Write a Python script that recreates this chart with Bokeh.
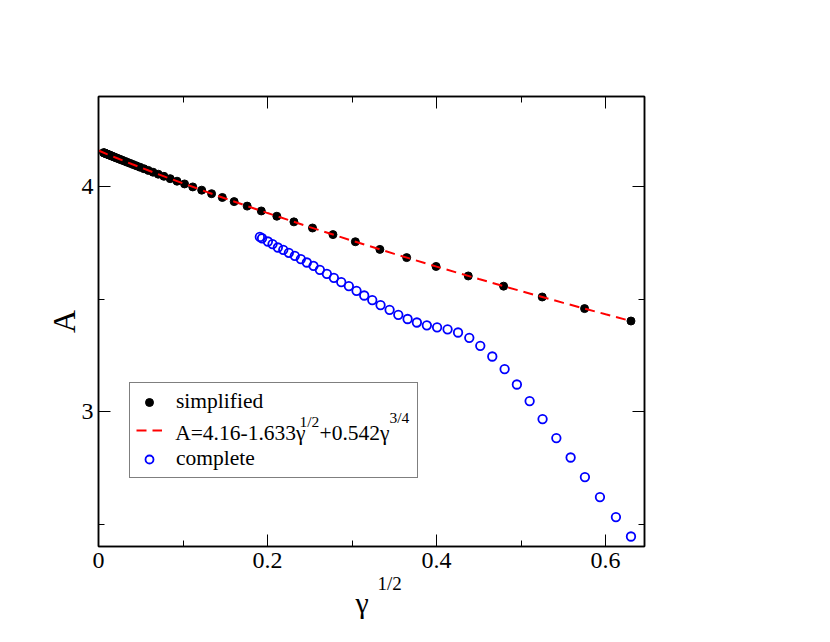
from bokeh.plotting import figure
from bokeh.models import Range1d, LinearAxis, FixedTicker, Legend, LegendItem, Title
from bokeh.core.properties import value
from bokeh.embed import file_html
from bokeh.resources import INLINE

# ---------------- data ----------------
simplified_x = [0.630, 0.5751, 0.5250, 0.4793, 0.4375, 0.3994, 0.3646, 0.3329, 0.3039, 0.2774,
                0.2532, 0.2312, 0.2110, 0.1926, 0.1759, 0.1605, 0.1465, 0.1338, 0.1221, 0.1115,
                0.1018, 0.0929, 0.0848, 0.0774, 0.0707, 0.0645, 0.0589, 0.0538, 0.0491, 0.0448,
                0.0409, 0.0373, 0.0341, 0.0311, 0.0284, 0.0259, 0.0237, 0.0216, 0.0197, 0.0180,
                0.0164, 0.0150, 0.0137, 0.0125, 0.0114, 0.0104, 0.0095, 0.0087, 0.0079, 0.0072,
                0.0066, 0.0060]
simplified_y = [3.4022, 3.4573, 3.5089, 3.5571, 3.6024, 3.6446, 3.6839, 3.7205, 3.7545, 3.7862,
                3.8156, 3.8428, 3.8679, 3.8913, 3.9128, 3.9328, 3.9512, 3.9680, 3.9837, 3.9981,
                4.0114, 4.0236, 4.0349, 4.0453, 4.0547, 4.0636, 4.0716, 4.0789, 4.0857, 4.0919,
                4.0977, 4.1030, 4.1077, 4.1122, 4.1162, 4.1200, 4.1233, 4.1264, 4.1293, 4.1319,
                4.1343, 4.1365, 4.1385, 4.1404, 4.1421, 4.1436, 4.1450, 4.1462, 4.1475, 4.1485,
                4.1495, 4.1505]

fit_x = [0.0, 0.01, 0.02, 0.04, 0.06, 0.08, 0.10, 0.15, 0.20, 0.25, 0.30, 0.35, 0.40, 0.45,
         0.50, 0.55, 0.60, 0.63]
fit_y = [4.1600, 4.1442, 4.1289, 4.0990, 4.0700, 4.0416, 4.0138, 3.9465, 3.8819, 3.8195,
         3.7592, 3.7007, 3.6439, 3.5888, 3.5351, 3.4829, 3.4321, 3.4022]

complete_x = [0.1909, 0.1935, 0.2004, 0.2059, 0.2122, 0.2186, 0.2252, 0.2323, 0.2394, 0.2465,
              0.2544, 0.2619, 0.2702, 0.2785, 0.2872, 0.2962, 0.3053, 0.3144, 0.3239, 0.3337,
              0.3444, 0.3547, 0.3657, 0.3767, 0.3885, 0.4006, 0.4130, 0.4254, 0.4387, 0.4517,
              0.4659, 0.4805, 0.4950, 0.5101, 0.5254, 0.5417, 0.5586, 0.5755, 0.5933, 0.6122,
              0.6300]
complete_y = [3.776, 3.770, 3.7556, 3.7440, 3.7289, 3.7187, 3.7053, 3.6920, 3.6773, 3.6622,
              3.6476, 3.6298, 3.6120, 3.5942, 3.5751, 3.5573, 3.5364, 3.5156, 3.4951, 3.4729,
              3.4520, 3.4298, 3.4111, 3.3956, 3.3831, 3.3742, 3.3653, 3.3511, 3.3276, 3.2920,
              3.2444, 3.1884, 3.1200, 3.0462, 2.9662, 2.8818, 2.7956, 2.7084, 2.6196, 2.5307,
              2.4444]

x_ticks = [0, 0.2, 0.4, 0.6]
x_tick_labels = ["0", "0.2", "0.4", "0.6"]
x_minor_ticks = [0.1, 0.3, 0.5]
y_ticks = [3, 4]
y_tick_labels = ["3", "4"]
y_minor_ticks = [2.5, 3.5]

legend_labels = ["simplified", "A=4.16-1.633\u03b3", "complete"]

# ---------------- layout ----------------
FONT = "Liberation Serif"
X0, X1 = 0.0, 0.646
Y0, Y1 = 2.4, 4.4
FRAME_L, FRAME_T, FRAME_W, FRAME_H = 98, 96, 546, 450   # pixels in the picture
FIG_W, FIG_H = 814, 634


def sx(px):   # picture pixel -> data x
    return X0 + (px - FRAME_L) / FRAME_W * (X1 - X0)


def sy(py):   # picture pixel -> data y
    return Y1 - (py - FRAME_T) / FRAME_H * (Y1 - Y0)


p = figure(width=FIG_W, height=FIG_H,
           x_range=Range1d(X0, X1), y_range=Range1d(Y0, Y1),
           output_backend="svg", toolbar_location=None,
           min_border_left=FRAME_L, min_border_top=FRAME_T,
           min_border_right=FIG_W - FRAME_L - FRAME_W,
           min_border_bottom=FIG_H - FRAME_T - FRAME_H)
p.xgrid.visible = False
p.ygrid.visible = False
p.outline_line_color = "black"
p.outline_line_width = 1.5
p.background_fill_color = "white"
p.border_fill_color = "white"


def style_axis(ax, ticks, minor, labels, show):
    ax.ticker = FixedTicker(ticks=ticks, minor_ticks=minor)
    ax.major_tick_in = 12
    ax.major_tick_out = 0
    ax.minor_tick_in = 6
    ax.minor_tick_out = 0
    ax.axis_line_color = "black"
    ax.axis_line_width = 1.5
    ax.major_tick_line_color = "black"
    ax.minor_tick_line_color = "black"
    ax.major_tick_line_width = 1
    ax.minor_tick_line_width = 1
    ax.major_label_overrides = {t: (l if show else "") for t, l in zip(ticks, labels)}
    ax.major_label_text_font = FONT
    ax.major_label_text_font_size = "24px"
    ax.major_label_text_color = "black"


style_axis(p.xaxis[0], x_ticks, x_minor_ticks, x_tick_labels, True)
style_axis(p.yaxis[0], y_ticks, y_minor_ticks, y_tick_labels, True)
p.xaxis[0].major_label_standoff = 6
p.yaxis[0].major_label_standoff = 5

top_axis = LinearAxis()
style_axis(top_axis, x_ticks, x_minor_ticks, x_tick_labels, False)
p.add_layout(top_axis, "above")
right_axis = LinearAxis()
style_axis(right_axis, y_ticks, y_minor_ticks, y_tick_labels, False)
p.add_layout(right_axis, "right")

p.yaxis[0].axis_label = "A"
p.yaxis[0].axis_label_text_font = FONT
p.yaxis[0].axis_label_text_font_size = "32px"
p.yaxis[0].axis_label_text_font_style = "normal"
p.yaxis[0].axis_label_text_color = "black"
p.yaxis[0].axis_label_standoff = -3

# x axis label  gamma^{1/2}  as two stacked titles below the axis
t_sup = Title(text="1/2", align="left", offset=377 - FRAME_L, standoff=0,
              text_font=FONT, text_font_size="19px", text_font_style="normal",
              text_color="black", text_line_height=0.6)
t_gam = Title(text="\u03b3", align="left", offset=355 - FRAME_L, standoff=-20,
              text_font=FONT, text_font_size="30px", text_font_style="normal",
              text_color="black")
p.add_layout(t_sup, "below")
p.add_layout(t_gam, "below")

# ---------------- glyphs ----------------
r_simp = p.scatter(simplified_x, simplified_y, marker="circle", size=8,
                   fill_color="black", line_color="black")
r_fit = p.line(fit_x, fit_y, line_color="red", line_width=2, line_dash="10 6")
r_comp = p.scatter(complete_x, complete_y, marker="circle", size=8.5,
                   fill_color=None, line_color="blue", line_width=1.8)

# ---------------- legend ----------------
legend = Legend(items=[LegendItem(label=legend_labels[0], renderers=[r_simp]),
                       LegendItem(label=" ", renderers=[r_fit]),
                       LegendItem(label=legend_labels[2], renderers=[r_comp])],
                location=(129 - FRAME_L, FRAME_T + FRAME_H - 478),
                margin=0, padding=6, spacing=4,
                glyph_width=26, glyph_height=20, label_height=24,
                label_standoff=14, label_width=235,
                label_text_font=FONT, label_text_font_size="21.5px",
                label_text_color="black",
                border_line_color="black", border_line_width=1,
                background_fill_color="white", background_fill_alpha=0.0)
p.add_layout(legend, "center")

# formula text with superscripts (text glyphs inside the legend box)
MAIN = "21.5px"
SUP = "15.5px"
pieces = [
    (legend_labels[1], 174.7, 432.5, MAIN),
    ("1/2", 299.0, 421.0, SUP),
    ("+0.542\u03b3", 319.0, 432.5, MAIN),
    ("3/4", 389.0, 416.5, SUP),
]
for txt, px, py, fs in pieces:
    p.text(x=[sx(px)], y=[sy(py)], text=[txt], text_font=value(FONT),
           text_font_size=value(fs), text_color="black",
           text_baseline="middle", text_align="left")

open("out.html", "w").write(file_html(p, INLINE))
